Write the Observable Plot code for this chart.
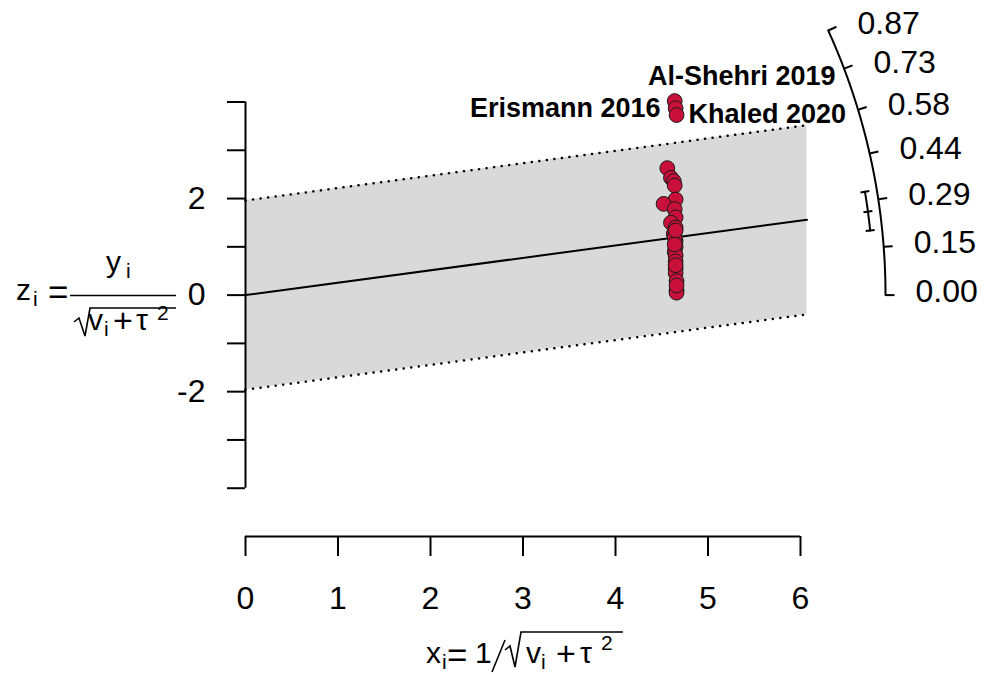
<!DOCTYPE html>
<html><head><meta charset="utf-8">
<script src="https://cdn.jsdelivr.net/npm/d3@7"></script>
<script src="https://cdn.jsdelivr.net/npm/@observablehq/plot@0.6"></script>
<style>body{margin:0;background:#fff}</style>
</head><body><div id="chart"></div>
<script>
// ---- data ----
const studyX = [4.64, 4.65, 4.66, 4.56, 4.60, 4.63, 4.64, 4.65, 4.52, 4.64, 4.65, 4.60, 4.65, 4.63, 4.65, 4.64, 4.65, 4.64, 4.65, 4.65, 4.65, 4.65, 4.66, 4.66, 4.66, 4.64, 4.65, 4.65, 4.66];
const studyZ = [4.02, 3.87, 3.73, 2.63, 2.43, 2.36, 2.27, 1.98, 1.89, 1.78, 1.61, 1.50, 1.40, 1.27, 1.12, 1.20, 1.00, 0.90, 0.82, 0.70, 0.55, 0.46, 0.29, 0.10, 0.05, 1.05, 0.62, 1.34, 0.20];
const labelNames = ["Al-Shehri 2019", "Erismann 2016", "Khaled 2020"];
const labelIdx = [0, 1, 2];
const estimate = 0.257;
const ciLower = 0.198;
const ciUpper = 0.320;
const zCrit = 1.96;
const xLimit = 6.07;
const xTicks = [0, 1, 2, 3, 4, 5, 6];
const yTicks = [-4, -3, -2, -1, 0, 1, 2, 3, 4];
const yLabeled = [-2, 0, 2];
const arcTicks = [0, 0.145, 0.29, 0.435, 0.58, 0.725, 0.87];
const arcTickLabels = ["0.00", "0.15", "0.29", "0.44", "0.58", "0.73", "0.87"];

// ---- layout ----
const FONT = "'Liberation Sans', Arial, Helvetica, sans-serif";
const W = 992, H = 674, mL = 245, mR = 192, mT = 101.5, mB = 138;
const xDom = [0, 6], yDom = [-5, 4];
const kx = (W - mL - mR) / (xDom[1] - xDom[0]);
const ky = (H - mT - mB) / (yDom[1] - yDom[0]);
const arcR = 640, ciR = 628;

function arcPoint(theta, rpx) {
  const a = Math.atan(theta * ky / kx);
  return {x: rpx * Math.cos(a) / kx, y: rpx * Math.sin(a) / ky};
}
const arcThetas = d3.range(0, arcTicks[arcTicks.length - 1], 0.005).concat([arcTicks[arcTicks.length - 1]]);
const arcLine = arcThetas.map(t => arcPoint(t, arcR));
const arcTickSegs = arcTicks.map(t => ({a: arcPoint(t, arcR), b: arcPoint(t, arcR + 9)}));
const arcLabelPts = arcTicks.map((t, i) => ({...arcPoint(t, arcR + 8), label: arcTickLabels[i]}));
const ciThetas = d3.range(ciLower, ciUpper, 0.002).concat([ciUpper]);
const ciLine = ciThetas.map(t => arcPoint(t, ciR));
const ciCaps = [ciLower, estimate, ciUpper].map(t => ({a: arcPoint(t, ciR - 4.5), b: arcPoint(t, ciR + 4.5)}));

const bandX = [0, xLimit];
const points = studyX.map((x, i) => ({x, z: studyZ[i]}));

const labelPlacement = [
  {dx: 67, dy: -25, anchor: "middle"},
  {dx: -15, dy: 0, anchor: "end"},
  {dx: 12, dy: -1, anchor: "start"}
];

const plot = Plot.plot({
  width: W, height: H,
  marginLeft: mL, marginRight: mR, marginTop: mT, marginBottom: mB,
  style: {fontFamily: FONT, color: "black", background: "white", overflow: "visible"},
  x: {domain: xDom},
  y: {domain: yDom},
  marks: [
    Plot.areaY(bandX, {x: d => d, y1: d => estimate * d - zCrit, y2: d => estimate * d + zCrit, fill: "#D9D9D9"}),
    Plot.line(bandX, {x: d => d, y: d => estimate * d + zCrit, stroke: "black", strokeWidth: 2.5, strokeDasharray: "0.1,7.5", strokeLinecap: "round"}),
    Plot.line(bandX, {x: d => d, y: d => estimate * d - zCrit, stroke: "black", strokeWidth: 2.5, strokeDasharray: "0.1,7.5", strokeLinecap: "round"}),
    Plot.line(bandX, {x: d => d, y: d => estimate * d, stroke: "black", strokeWidth: 2}),
    Plot.ruleX([0], {y1: yTicks[0], y2: yTicks[yTicks.length - 1], stroke: "black", strokeWidth: 2}),
    Plot.axisY({ticks: yTicks, tickSize: 18, tickPadding: 22, tickFormat: d => yLabeled.includes(d) ? String(d) : "", fontSize: 32, strokeWidth: 2, label: null}),
    Plot.ruleY([yDom[0]], {x1: xTicks[0], x2: xTicks[xTicks.length - 1], stroke: "black", strokeWidth: 2}),
    Plot.axisX({ticks: xTicks, tickSize: 20, tickPadding: 30, tickFormat: d => String(d), fontSize: 32, strokeWidth: 2, label: null}),
    Plot.dot(points, {x: "x", y: "z", r: 7.4, fill: "#C8103A", stroke: "#1a1a1a", strokeWidth: 1}),
    ...labelIdx.map((idx, k) => Plot.text([idx], {
      x: i => studyX[i], y: i => studyZ[i], text: i => labelNames[i],
      dx: labelPlacement[k].dx, dy: labelPlacement[k].dy, textAnchor: labelPlacement[k].anchor,
      fontSize: 27, fontWeight: "bold", fill: "black"
    })),
    Plot.line(arcLine, {x: "x", y: "y", stroke: "black", strokeWidth: 2}),
    Plot.link(arcTickSegs, {x1: d => d.a.x, y1: d => d.a.y, x2: d => d.b.x, y2: d => d.b.y, stroke: "black", strokeWidth: 2}),
    Plot.text(arcLabelPts, {x: "x", y: "y", text: "label", dx: 22, dy: -3, textAnchor: "start", fontSize: 32, fill: "black"}),
    Plot.line(ciLine, {x: "x", y: "y", stroke: "black", strokeWidth: 2}),
    Plot.link(ciCaps, {x1: d => d.a.x, y1: d => d.a.y, x2: d => d.b.x, y2: d => d.b.y, stroke: "black", strokeWidth: 2})
  ]
});

// ---- axis titles (plotmath-like) ----
const svg = d3.select(plot);
const g = svg.append("g").attr("font-family", FONT).attr("fill", "black").attr("text-anchor", "start");
function t(x, y, s, size) { g.append("text").attr("x", x).attr("y", y).attr("font-size", size).attr("text-anchor", "start").text(s); }
function p(d) { g.append("path").attr("d", d).attr("fill", "none").attr("stroke", "black").attr("stroke-width", 1.6); }
// y label: z_i = y_i / sqrt(v_i + tau^2)
t(16, 300, "z", 30); t(33, 306, "i", 21); t(48, 304, "=", 35);
p("M70,295.5H176");
t(106, 272, "y", 30); t(126, 278, "i", 21);
p("M74,322L79,318L85,336L90,308H176");
t(88, 330, "v", 30); t(104, 336, "i", 21); t(113, 332, "+", 34); t(136, 330, "τ", 30); t(157, 320, "2", 21);
// x label: x_i = 1/sqrt(v_i + tau^2)
t(426, 663, "x", 30); t(442, 669, "i", 21); t(447, 667, "=", 35); t(475, 663, "1", 30);
p("M492,672L505,640");
p("M505,650L510,646L515,667L521,632H623");
t(526, 663, "v", 30); t(541, 669, "i", 21); t(556, 665, "+", 34); t(580, 663, "τ", 30); t(601, 650, "2", 21);

document.getElementById("chart").appendChild(plot);
</script>
</body></html>
